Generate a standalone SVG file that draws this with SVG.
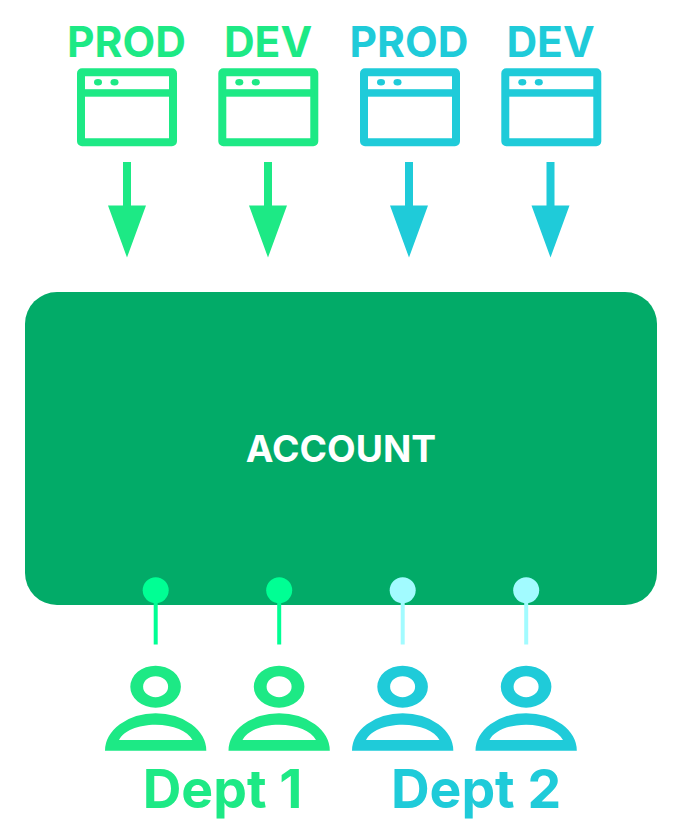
<svg xmlns="http://www.w3.org/2000/svg" width="682" height="834" viewBox="0 0 682 834">
<style>
.t{font-family:Inter,"Liberation Sans",sans-serif;font-weight:700;text-anchor:middle}
.lbl{font-size:42.500px}
.g{fill:#1de985}.b{fill:#1fcbd9}
</style>
<defs>
<g id="win">
<rect x="4" y="4" width="92" height="70" rx="1" fill="none" stroke="currentColor" stroke-width="8" stroke-linejoin="round"/>
<rect x="4" y="21" width="92" height="7.500" fill="currentColor"/>
<ellipse cx="21" cy="14" rx="4" ry="3.300" fill="currentColor"/>
<ellipse cx="37.500" cy="14" rx="4" ry="3.300" fill="currentColor"/>
</g>
<g id="user">
<path fill="currentColor" fill-rule="evenodd" d="M25.800 21.700a25.300 21 0 1 0 50.600 0a25.300 21 0 1 0-50.600 0ZM38.600 21.700a12.500 10.500 0 1 1 25 0a12.500 10.500 0 1 1-25 0Z"/>
<path fill="currentColor" fill-rule="evenodd" d="M.5 85.700A50.600 37.400 0 0 1 101.800 85.700ZM14.500 75H88C83 66 69 59.700 51.100 59.700S19 66 14.500 75Z"/>
</g>
</defs>
<g id="connectors">
<path class="g" d="M123 162h8v43.500h15l-19 52-19-52h15z"/>
<path class="g" d="M264 162h8v43.500h15l-19 52-19-52h15z"/>
<path class="b" d="M405 162h8v43.500h15l-19 52-19-52h15z"/>
<path class="b" d="M546.500 162h8v43.500h15l-19 52-19-52h15z"/>
</g>
<g id="account">
<rect x="25" y="292" width="632" height="313" rx="32" fill="#02ab68"/>
<text class="t" x="341" y="462" font-size="37.200" fill="#fff">ACCOUNT</text>
</g>
<g id="pins">
<path d="M155.700 590v54.500" stroke="#00ff94" stroke-width="4"/>
<path d="M279.200 590v54.500" stroke="#00ff94" stroke-width="4"/>
<path d="M402.700 590v54.500" stroke="#a2fbff" stroke-width="4"/>
<path d="M526.200 590v54.500" stroke="#a2fbff" stroke-width="4"/>
<circle cx="155.700" cy="590.300" r="13" fill="#00ff94"/>
<circle cx="279.200" cy="590.300" r="13" fill="#00ff94"/>
<circle cx="402.700" cy="590.300" r="13" fill="#a2fbff"/>
<circle cx="526.200" cy="590.300" r="13" fill="#a2fbff"/>
</g>
<g id="prod-green"><text class="t lbl g" x="126.500" y="56.500">PROD</text><use href="#win" x="77" y="68.200" color="#1de985"/></g>
<g id="dev-green"><text class="t lbl g" x="268" y="56.500">DEV</text><use href="#win" x="218.300" y="68.200" color="#1de985"/></g>
<g id="prod-blue"><text class="t lbl b" x="409" y="56.500">PROD</text><use href="#win" x="360" y="68.200" color="#1fcbd9"/></g>
<g id="dev-blue"><text class="t lbl b" x="550.500" y="56.500">DEV</text><use href="#win" x="501.300" y="68.200" color="#1fcbd9"/></g>
<g id="user-1"><use href="#user" x="104.500" y="665" color="#1de985"/></g>
<g id="user-2"><use href="#user" x="228" y="665" color="#1de985"/></g>
<g id="user-3"><use href="#user" x="351.500" y="665" color="#1fcbd9"/></g>
<g id="user-4"><use href="#user" x="475" y="665" color="#1fcbd9"/></g>
<g id="dept-1"><text class="t g" x="222.500" y="807.500" font-size="53.500">Dept 1</text></g>
<g id="dept-2"><text class="t b" x="476" y="807.500" font-size="53.500">Dept 2</text></g>
</svg>
